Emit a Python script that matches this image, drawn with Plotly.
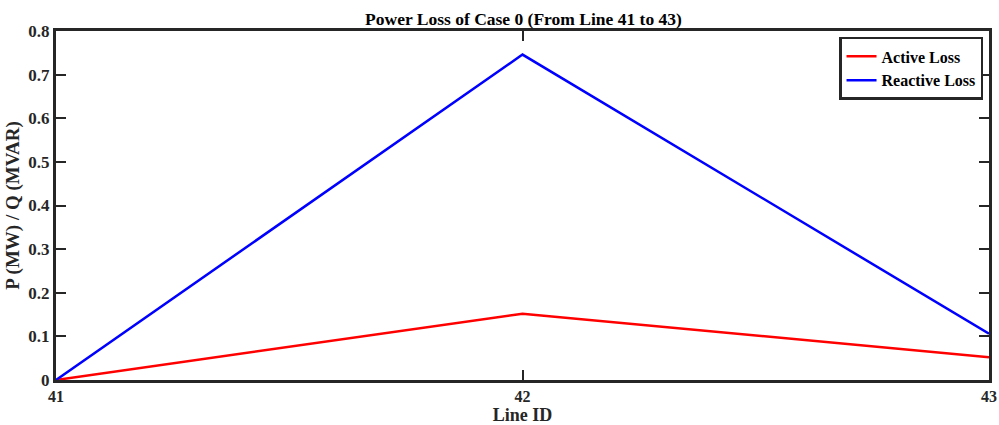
import plotly.graph_objects as go

line_ids = [41, 42, 43]
active_loss = [0.0, 0.152, 0.052]
reactive_loss = [0.0, 0.746, 0.106]

font_family = "Liberation Serif"
axis_color = "#262626"

fig = go.Figure()
fig.add_trace(go.Scatter(x=line_ids, y=active_loss, mode="lines", name="<b>Active Loss</b>",
                         line=dict(color="#ff0000", width=2.5)))
fig.add_trace(go.Scatter(x=line_ids, y=reactive_loss, mode="lines", name="<b>Reactive Loss</b>",
                         line=dict(color="#0000ff", width=2.5)))

fig.update_layout(
    width=999, height=425,
    margin=dict(l=56, r=10, t=31, b=45, autoexpand=False),
    plot_bgcolor="white", paper_bgcolor="white",
    font=dict(family=font_family, size=16, color="#262626"),
    title=dict(text="<b>Power Loss of Case 0 (From Line 41 to 43)</b>", x=0.524, xanchor="center",
               y=0.955, yanchor="middle", font=dict(size=17.5, color="#000000")),
    showlegend=True,
    legend=dict(x=0.9936, y=0.983, xanchor="right", yanchor="top",
                bordercolor=axis_color, borderwidth=2.5, bgcolor="white",
                font=dict(size=16, color="#000000"), tracegroupgap=0,
                itemwidth=30),
    xaxis=dict(range=[41, 43], tickvals=line_ids, ticktext=[f"<b>{v}</b>" for v in line_ids],
               ticks="inside", ticklen=10, tickwidth=2, tickcolor=axis_color,
               showline=True, linewidth=3, linecolor=axis_color, mirror="allticks",
               showgrid=False, zeroline=False, tickfont=dict(size=16), automargin=False,
               title=dict(text="<b>Line ID</b>", standoff=4, font=dict(size=18, color="#262626"))),
    yaxis=dict(range=[0, 0.8], tickvals=[0, 0.1, 0.2, 0.3, 0.4, 0.5, 0.6, 0.7, 0.8],
               ticktext=["<b>0</b>"] + [f"<b>{v:.1f}</b>" for v in [0.1, 0.2, 0.3, 0.4, 0.5, 0.6, 0.7, 0.8]],
               ticks="inside", ticklen=10, tickwidth=2, tickcolor=axis_color,
               showline=True, linewidth=3, linecolor=axis_color, mirror="allticks",
               showgrid=False, zeroline=False, tickfont=dict(size=17), automargin=False,
               title=dict(text="<b>P (MW) / Q (MVAR)</b>", standoff=4, font=dict(size=19, color="#262626"))),
)

fig.write_html("out.html")
